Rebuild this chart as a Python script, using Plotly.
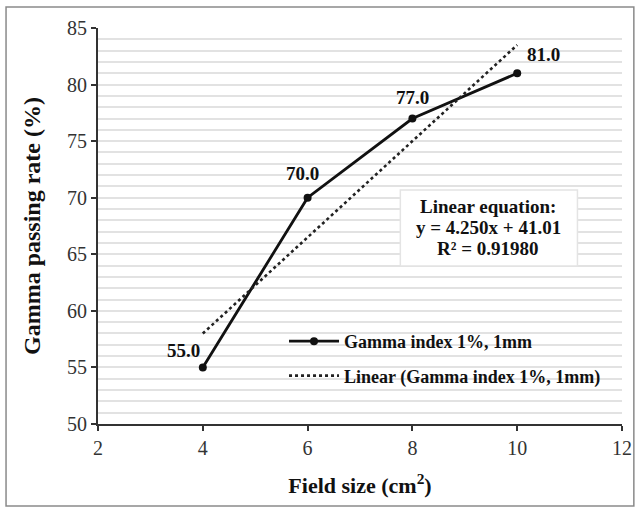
import numpy as np
import plotly.graph_objects as go

field_size = [4, 6, 8, 10]
gamma_rate = [55.0, 70.0, 77.0, 81.0]
point_labels = ["55.0", "70.0", "77.0", "81.0"]
label_shift_x = [-19, -5, 0, 26]
label_shift_y = [17, 24, 21, 19]
series_name = "Gamma index 1%, 1mm"
trend_name = "Linear (Gamma index 1%, 1mm)"
equation_lines = ["Linear equation:", "y = 4.250x + 41.01", "R² = 0.91980"]

slope, intercept = np.polyfit(field_size, gamma_rate, 1)
trend_x = [field_size[0], field_size[-1]]
trend_y = [slope * v + intercept for v in trend_x]

FONT = "Liberation Serif"

fig = go.Figure()
fig.add_trace(go.Scatter(
    x=field_size, y=gamma_rate, mode="lines+markers",
    name=series_name, legendgroup="a",
    line=dict(color="#111111", width=2.8),
    marker=dict(color="#111111", size=8),
))
fig.add_trace(go.Scatter(
    x=trend_x, y=trend_y, mode="lines",
    name=trend_name, legendgroup="b",
    line=dict(color="#222222", width=2.6, dash="dot"),
))

for xv, yv, t, dx, dy in zip(field_size, gamma_rate, point_labels, label_shift_x, label_shift_y):
    fig.add_annotation(x=xv, y=yv, xref="x", yref="y", text=f"<b>{t}</b>",
                       showarrow=False, xshift=dx, yshift=dy,
                       font=dict(family=FONT, size=19, color="#111111"))

# equation box
fig.add_shape(type="rect", xref="paper", yref="paper",
              x0=0.577, x1=0.915, y0=0.399, y1=0.591,
              fillcolor="white", line=dict(color="#e4e4e4", width=1.5), layer="above")
for txt, yy in zip(equation_lines, [0.548, 0.496, 0.444]):
    fig.add_annotation(xref="paper", yref="paper", x=0.745, y=yy,
                       xanchor="center", yanchor="middle",
                       text=f"<b>{txt}</b>", showarrow=False,
                       font=dict(family=FONT, size=19, color="#111111"))

# outer border
fig.add_shape(type="rect", xref="paper", yref="paper",
              x0=-0.1755, x1=1.0226, y0=-0.207, y1=1.053,
              line=dict(color="#8a8a8a", width=1.5), fillcolor="rgba(0,0,0,0)")

fig.update_layout(
    width=644, height=508,
    margin=dict(l=98, r=16, t=28, b=84),
    paper_bgcolor="white", plot_bgcolor="white",
    font=dict(family=FONT, color="#111111"),
    showlegend=True,
    legend=dict(x=0.355, y=0.255, xanchor="left", yanchor="top",
                bgcolor="rgba(0,0,0,0)", tracegroupgap=8,
                font=dict(family=FONT, size=18, color="#111111", weight="bold"),
                itemwidth=50),
)
fig.update_xaxes(
    range=[2, 12], dtick=2, tick0=2,
    showgrid=False, zeroline=False,
    showline=True, linecolor="#333333", linewidth=2.2,
    ticks="outside", ticklen=5, tickwidth=2, tickcolor="#333333",
    tickfont=dict(family=FONT, size=20, color="#333333"),
    title=dict(text="<b>Field size (cm<sup>2</sup>)</b>", standoff=20,
               font=dict(family=FONT, size=22, color="#111111")),
)
fig.update_yaxes(
    range=[50, 85], dtick=5, tick0=50,
    showgrid=True, gridcolor="#e2e2e2", gridwidth=1.5, zeroline=False,
    minor=dict(dtick=1, showgrid=True, gridcolor="#e2e2e2", gridwidth=1.5),
    showline=True, linecolor="#333333", linewidth=2.2,
    ticks="outside", ticklen=5, tickwidth=2, tickcolor="#333333",
    tickfont=dict(family=FONT, size=20, color="#333333"),
    title=dict(text="<b>Gamma passing rate (%)</b>", standoff=20,
               font=dict(family=FONT, size=24, color="#111111")),
)

fig.write_html("out.html")
